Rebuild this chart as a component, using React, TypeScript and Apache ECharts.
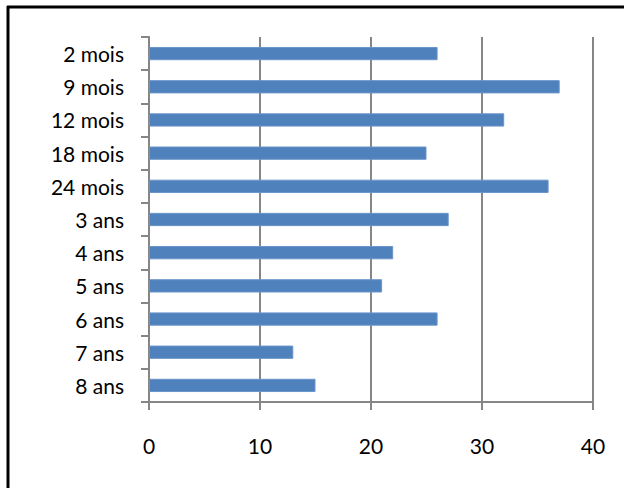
import React, { useEffect, useRef } from "react";
import * as echarts from "echarts";

const categories = ["2 mois", "9 mois", "12 mois", "18 mois", "24 mois", "3 ans", "4 ans", "5 ans", "6 ans", "7 ans", "8 ans"];
const values = [26, 37, 32, 25, 36, 27, 22, 21, 26, 13, 15];
const xTicks = { min: 0, max: 40, interval: 10 };

export default function App() {
  const ref = useRef<HTMLDivElement>(null);
  useEffect(() => {
    if (!ref.current) return;
    const chart = echarts.init(ref.current, null, { renderer: "svg" });
    const gray = "#868686";
    const font = "Lato";
    chart.setOption({
      animation: false,
      backgroundColor: "#ffffff",
      grid: { left: 149, right: 31, top: 37, bottom: 86, containLabel: false },
      xAxis: {
        type: "value",
        min: xTicks.min,
        max: xTicks.max,
        interval: xTicks.interval,
        axisLine: { show: true, lineStyle: { color: gray, width: 2 } },
        axisTick: { show: true, length: 8, lineStyle: { color: gray, width: 2 } },
        splitLine: { show: true, lineStyle: { color: gray, width: 2 } },
        axisLabel: { fontFamily: font, fontSize: 21, color: "#000", margin: 33 },
      },
      yAxis: {
        type: "category",
        data: categories,
        inverse: true,
        axisLine: { show: true, lineStyle: { color: gray, width: 2 } },
        axisTick: { show: true, length: 8, alignWithLabel: false, lineStyle: { color: gray, width: 2 } },
        axisLabel: { fontFamily: font, fontSize: 21, color: "#000", margin: 25 },
        splitLine: { show: false },
      },
      series: [
        {
          type: "bar",
          data: values,
          barCategoryGap: "60%",
          itemStyle: { color: "#4F81BD", borderColor: "#6A95CA", borderWidth: 1 },
        },
      ],
      graphic: [
        { type: "line", shape: { x1: 7, y1: 7, x2: 624, y2: 7 }, style: { stroke: "#000", lineWidth: 3 }, z: 100 },
        { type: "line", shape: { x1: 8, y1: 6, x2: 8, y2: 488 }, style: { stroke: "#000", lineWidth: 3 }, z: 100 },
      ],
    });
    return () => chart.dispose();
  }, []);
  return (
    <div
      ref={ref}
      style={{ position: "fixed", left: 0, top: 0, width: 624, height: 488, background: "#fff" }}
    />
  );
}
